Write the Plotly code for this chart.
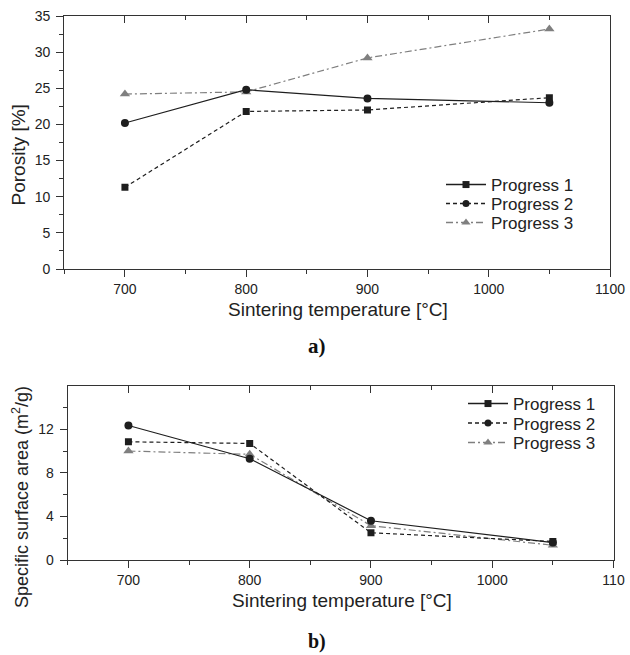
import plotly.graph_objects as go

# ---------------- data ----------------
temps = [700, 800, 900, 1050]

# panel a) porosity [%]
por_solid_circle = [20.2, 24.8, 23.6, 23.0]
por_dash_square = [11.3, 21.8, 22.0, 23.7]
por_dashdot_tri = [24.2, 24.5, 29.2, 33.2]

# panel b) specific surface area (m2/g)
ssa_solid_circle = [12.35, 9.3, 3.6, 1.6]
ssa_dash_square = [10.85, 10.7, 2.5, 1.7]
ssa_dashdot_tri = [10.0, 9.7, 3.15, 1.35]

legend_names = ["Progress 1", "Progress 2", "Progress 3"]
x_tickvals = [700, 800, 900, 1000, 1100]
x_ticktext_a = ["700", "800", "900", "1000", "1100"]
x_ticktext_b = ["700", "800", "900", "1000", "110"]
y_tickvals_a = [0, 5, 10, 15, 20, 25, 30, 35]
y_tickvals_b = [0, 4, 8, 12]

# ---------------- styles ----------------
W, H = 630, 655
BLACK = "#1e1e1e"
GRAY = "#7f7f7f"
AX = "#333333"
FONT = "Liberation Sans, Arial, sans-serif"
SERIF = "Liberation Serif, Times New Roman, serif"
DASH = "4px,3px"
DASHDOT = "7px,3px,2px,3px"

styles = [
    dict(color=BLACK, dash="solid"),
    dict(color=BLACK, dash=DASH),
    dict(color=GRAY, dash=DASHDOT),
]
legend_markers = [("square", 7), ("circle", 7), ("triangle-up", 8)]
data_markers = [("circle", 8), ("square", 7), ("triangle-up", 9)]

legend_rows_a = [185, 204, 223]
legend_rows_b = [404, 423.5, 443]


def px_x(p):
    return p / W


def px_y(p):
    return 1 - p / H


fig = go.Figure()

series_a = [por_solid_circle, por_dash_square, por_dashdot_tri]
series_b = [ssa_solid_circle, ssa_dash_square, ssa_dashdot_tri]

panels = [
    (series_a, "x", "y", ["legend", "legend2", "legend3"]),
    (series_b, "x2", "y2", ["legend4", "legend5", "legend6"]),
]
for series, xa, ya, legs in panels:
    for i in [2, 1, 0]:
        st = styles[i]
        sym, sz = data_markers[i]
        fig.add_trace(
            go.Scatter(
                x=temps,
                y=series[i],
                mode="lines+markers",
                line=dict(color=st["color"], dash=st["dash"], width=1.2),
                marker=dict(symbol=sym, size=sz, color=st["color"]),
                xaxis=xa,
                yaxis=ya,
                showlegend=False,
                hoverinfo="skip",
            )
        )
    for i in range(3):
        st = styles[i]
        sym, sz = legend_markers[i]
        fig.add_trace(
            go.Scatter(
                x=[None],
                y=[None],
                mode="lines+markers",
                name=legend_names[i],
                line=dict(color=st["color"], dash=st["dash"], width=1.5),
                marker=dict(symbol=sym, size=sz, color=st["color"]),
                xaxis=xa,
                yaxis=ya,
                legend=legs[i],
            )
        )

fig.add_trace(go.Scatter(x=[None], y=[None], xaxis="x3", yaxis="y", showlegend=False))
fig.add_trace(go.Scatter(x=[None], y=[None], xaxis="x4", yaxis="y2", showlegend=False))

tickfont = dict(family=FONT, size=14, color="#222")
minor_x = [650, 750, 850, 950, 1050]

xcommon = dict(
    range=[650, 1100],
    tickmode="array",
    tickvals=x_tickvals,
    ticks="outside",
    ticklen=7,
    tickwidth=1,
    tickcolor=AX,
    showline=True,
    linecolor=AX,
    linewidth=1.2,
    mirror=True,
    showgrid=False,
    zeroline=False,
    automargin=False,
    tickfont=tickfont,
    ticklabelstandoff=0,
    minor=dict(tickmode="array", tickvals=minor_x, ticks="outside", ticklen=4, tickcolor=AX),
)
xtop = dict(
    range=[650, 1100],
    tickmode="array",
    tickvals=x_tickvals,
    ticks="inside",
    ticklen=7,
    tickcolor=AX,
    showticklabels=False,
    showline=False,
    showgrid=False,
    zeroline=False,
    automargin=False,
    side="top",
    minor=dict(tickmode="array", tickvals=minor_x, ticks="inside", ticklen=4, tickcolor=AX),
)
ycommon = dict(
    ticks="outside",
    ticklen=7,
    tickwidth=1,
    tickcolor=AX,
    showline=True,
    linecolor=AX,
    linewidth=1.2,
    mirror=True,
    showgrid=False,
    zeroline=False,
    automargin=False,
    tickfont=tickfont,
    ticklabelstandoff=3,
)

dom_xa = [px_x(64.3), px_x(610)]
dom_ya = [px_y(269), px_y(16)]
dom_xb = [px_x(67.8), px_x(613.5)]
dom_yb = [px_y(560), px_y(385.7)]

legend_font = dict(family=FONT, size=17, color="#222")
legends = {}
for name, row in zip(["legend", "legend2", "legend3"], legend_rows_a):
    legends[name] = dict(x=px_x(441), y=px_y(row), xanchor="left", yanchor="middle",
                         bgcolor="rgba(255,255,255,0)", font=legend_font, itemwidth=40,
                         borderwidth=0)
for name, row in zip(["legend4", "legend5", "legend6"], legend_rows_b):
    legends[name] = dict(x=px_x(463), y=px_y(row), xanchor="left", yanchor="middle",
                         bgcolor="rgba(255,255,255,0)", font=legend_font, itemwidth=40,
                         borderwidth=0)

fig.update_layout(
    width=W,
    height=H,
    autosize=False,
    margin=dict(l=0, r=0, t=0, b=0, pad=0, autoexpand=False),
    paper_bgcolor="white",
    plot_bgcolor="white",
    xaxis=dict(xcommon, domain=dom_xa, anchor="y", ticktext=x_ticktext_a),
    yaxis=dict(
        ycommon,
        domain=dom_ya,
        anchor="x",
        range=[0, 35],
        tickmode="array",
        tickvals=y_tickvals_a,
        minor=dict(tickmode="array", tickvals=[2.5, 7.5, 12.5, 17.5, 22.5, 27.5, 32.5],
                   ticks="outside", ticklen=4, tickcolor=AX),
    ),
    xaxis2=dict(xcommon, domain=dom_xb, anchor="y2", ticktext=x_ticktext_b),
    yaxis2=dict(
        ycommon,
        domain=dom_yb,
        anchor="x2",
        range=[0, 16],
        tickmode="array",
        tickvals=y_tickvals_b,
        minor=dict(tickmode="array", tickvals=[2, 6, 10, 14], ticks="outside", ticklen=4, tickcolor=AX),
    ),
    xaxis3=dict(xtop, overlaying="x", anchor="y", domain=dom_xa),
    xaxis4=dict(xtop, overlaying="x2", anchor="y2", domain=dom_xb),
    annotations=[
        dict(text="Porosity [%]", x=px_x(17.5), y=px_y(155), xref="paper", yref="paper",
             xanchor="center", yanchor="middle",
             showarrow=False, textangle=-90, font=dict(family=FONT, size=19, color="#222")),
        dict(text="Specific surface area (m<sup>2</sup>/g)", x=px_x(21), y=px_y(497), xref="paper", yref="paper",
             xanchor="center", yanchor="middle",
             showarrow=False, textangle=-90, font=dict(family=FONT, size=18, color="#222")),
        dict(text="Sintering temperature [°C]", x=px_x(337.5), y=px_y(309), xref="paper", yref="paper",
             xanchor="center", yanchor="middle",
             showarrow=False, font=dict(family=FONT, size=19, color="#222")),
        dict(text="Sintering temperature [°C]", x=px_x(341.7), y=px_y(600), xref="paper", yref="paper",
             xanchor="center", yanchor="middle",
             showarrow=False, font=dict(family=FONT, size=19, color="#222")),
        dict(text="<b>a)</b>", x=px_x(317), y=px_y(346), xref="paper", yref="paper",
             xanchor="center", yanchor="middle", borderpad=0,
             showarrow=False, font=dict(family=SERIF, size=21, color="#111")),
        dict(text="<b>b)</b>", x=px_x(317), y=px_y(641), xref="paper", yref="paper",
             xanchor="center", yanchor="middle", borderpad=0,
             showarrow=False, font=dict(family=SERIF, size=20, color="#111")),
    ],
    **legends,
)

fig.write_html(
    "out.html",
    config={"displayModeBar": False},
    post_script=(
        "document.documentElement.style.margin='0px';"
        "document.documentElement.style.overflow='hidden';"
        "document.body.style.margin='0px';"
        "document.body.style.padding='0px';"
        "document.body.style.overflow='hidden';"
    ),
)
